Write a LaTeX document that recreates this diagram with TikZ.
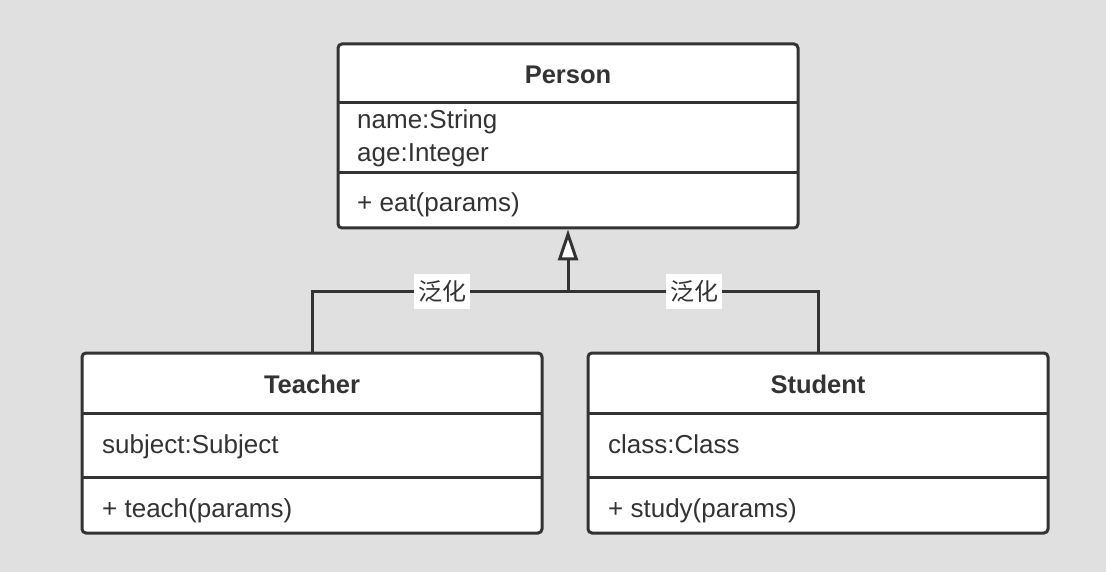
\documentclass[tikz,border=0pt]{standalone}
\usepackage{fontspec}
\setmainfont{Liberation Sans}
\newfontfamily\cjk{Noto Sans CJK SC}
\usetikzlibrary{arrows.meta}
\definecolor{bg}{RGB}{224,224,224}
\definecolor{ink}{RGB}{51,51,51}
\tikzset{
  classbox/.style={draw=ink, fill=white, line width=3pt, rounded corners=4pt, inner sep=0pt},
  divider/.style={draw=ink, line width=3pt},
  title/.style={font=\fontsize{25.5}{30}\selectfont\bfseries, text=ink, inner sep=0pt, anchor=base},
  member/.style={font=\fontsize{26}{30}\selectfont, text=ink, inner sep=0pt, anchor=base west},
  conn/.style={draw=ink, line width=3pt},
  genlabel/.style={fill=white, text=ink, font=\cjk\fontsize{24}{28}\selectfont, inner xsep=3pt, inner ysep=4pt, minimum width=56pt, minimum height=35pt},
}
\begin{document}
\begin{tikzpicture}[x=1pt,y=-1pt]
\fill[bg] (0,0) rectangle (1106,572);
\useasboundingbox (0,0) rectangle (1106,572);

% Person
\node[classbox, minimum width=460pt, minimum height=184pt] (person) at (568,136) {};
\draw[divider] (338,103) -- (798,103);
\draw[divider] (338,173) -- (798,173);
\node[title] (ptitle) at (568,84) {Person};
\node[member] (pname) at (357,129) {name:String};
\node[member] (page) at (357,162) {age:Integer};
\node[member] (peat) at (357,212) {+ eat(params)};

% Teacher
\node[classbox, minimum width=460pt, minimum height=180pt] (teacher) at (312,443) {};
\draw[divider] (82,413) -- (542,413);
\draw[divider] (82,477) -- (542,477);
\node[title] (ttitle) at (312,393) {Teacher};
\node[member] (tsub) at (102,453) {subject:Subject};
\node[member] (tteach) at (102,517) {+ teach(params)};

% Student
\node[classbox, minimum width=460pt, minimum height=180pt] (student) at (818,443) {};
\draw[divider] (588,413) -- (1048,413);
\draw[divider] (588,477) -- (1048,477);
\node[title] (stitle) at (818,393) {Student};
\node[member] (sclass) at (608,453) {class:Class};
\node[member] (sstudy) at (608,517) {+ study(params)};

% generalization connectors
\coordinate (j) at (568,291);
\draw[conn] (teacher.north) |- (j);
\draw[conn] (student.north) |- (j);
\draw[conn, -{Triangle[open, fill=white, length=31pt, width=20pt, line width=3pt]}] (j) -- (person.south);
\node[genlabel] (l1) at (442,291.5) {泛化};
\node[genlabel] (l2) at (694,291.5) {泛化};
\end{tikzpicture}
\end{document}
